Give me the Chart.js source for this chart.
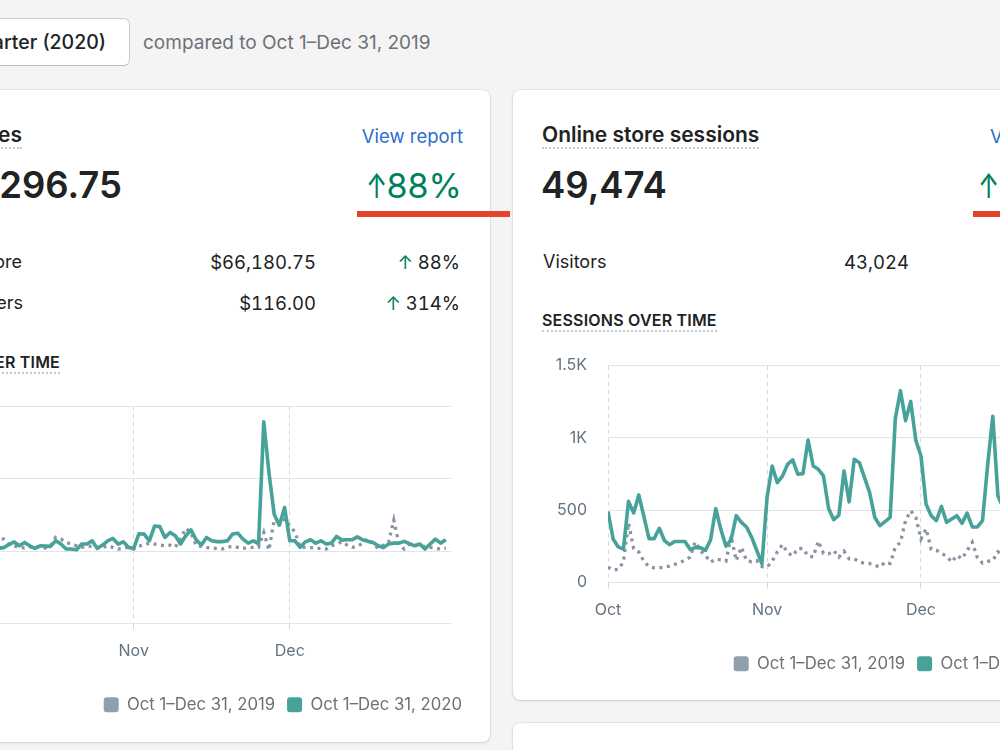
<!DOCTYPE html>
<html>
<head>
<meta charset="utf-8">
<script src="https://cdn.jsdelivr.net/npm/chart.js@4/dist/chart.umd.min.js"></script>
<style>
html,body{margin:0;padding:0;width:1000px;height:750px;overflow:hidden;background:#f4f4f5;font-family:Inter,"Noto Sans",sans-serif;color:#202223;}
.abs{position:absolute;white-space:nowrap;}
.card{position:absolute;background:#fff;border-radius:8px;box-shadow:0 0 0 1px rgba(63,63,68,0.06),0 1px 3px 0 rgba(63,63,68,0.16);}
.h{font-size:21px;font-weight:600;line-height:24px;}
.dot{border-bottom:2px dotted #c4cad0;}
.big{font-size:36.5px;font-weight:600;line-height:44px;}
.pct{font-size:34px;line-height:40px;color:#007f5f;}
.arr{display:inline-block;transform:scaleX(0.75);transform-origin:left center;width:21px;}
.row{font-size:18px;line-height:24px;}
.num{font-size:18.5px;font-feature-settings:"tnum" 1;}
.sub{font-size:16px;font-weight:600;line-height:20px;letter-spacing:0.2px;}
.link{font-size:18.5px;line-height:24px;color:#2c6ecb;}
.g{color:#007f5f;}
.red{position:absolute;background:#e4442b;height:6px;}
.chartbox{position:absolute;}
</style>
</head>
<body>
<div class="abs" style="left:-110px;top:18px;width:240px;height:48px;box-sizing:border-box;border:1px solid #c9cccf;border-bottom-color:#babfc3;border-radius:6px;background:#fff;text-align:right;padding-right:23px;font-size:19.5px;font-weight:500;line-height:47px;">Last quarter (2020)</div>
<div class="abs" style="left:143px;top:31px;font-size:19px;line-height:24px;color:#6d7175;">compared to Oct 1–Dec 31, 2019</div>

<div class="card" style="left:-116px;top:90px;width:606px;height:652px;"></div>
<div class="card" style="left:513px;top:90px;width:606px;height:610px;"></div>
<div class="card" style="left:513px;top:723px;width:606px;height:100px;"></div>

<!-- left card texts -->
<div class="abs h" style="right:978px;top:123px;"><span class="dot">Total sales</span></div>
<div class="abs link" style="right:537px;top:124px;">View report</div>
<div class="abs big" style="right:878px;top:163px;">$66,296.75</div>
<div class="abs pct" style="right:538px;top:166px;"><span class="arr">↑</span>88%</div>
<div class="abs row" style="right:978px;top:250px;">Online store</div>
<div class="abs row num" style="right:684px;top:250px;">$66,180.75</div>
<div class="abs row num" style="right:540px;top:250px;"><span class="g">↑</span> 88%</div>
<div class="abs row" style="right:977px;top:291px;">Draft Orders</div>
<div class="abs row num" style="right:684px;top:291px;">$116.00</div>
<div class="abs row num" style="right:540px;top:291px;"><span class="g">↑</span> 314%</div>
<div class="abs sub" style="right:940px;top:352px;"><span class="dot">SALES OVER TIME</span></div>

<!-- right card texts -->
<div class="abs h" style="left:542px;top:123px;"><span class="dot">Online store sessions</span></div>
<div class="abs link" style="left:990px;top:124px;">View report</div>
<div class="abs big" style="left:541px;top:163px;">49,474</div>
<div class="abs pct" style="left:978px;top:166px;"><span class="arr">↑</span></div>
<div class="abs row" style="left:543px;top:250px;">Visitors</div>
<div class="abs row num" style="right:91px;top:250px;">43,024</div>
<div class="abs sub" style="left:542px;top:310px;"><span class="dot">SESSIONS OVER TIME</span></div>

<div class="red" style="left:357px;top:211px;width:153px;"></div>
<div class="red" style="left:973px;top:211px;width:30px;"></div>

<div class="chartbox" style="left:-87px;top:376px;width:561px;height:347px;"><canvas id="salesChart"></canvas></div>
<div class="chartbox" style="left:542px;top:335px;width:562px;height:347px;"><canvas id="sessionsChart"></canvas></div>

<script>
const legendLabels = ['Oct 1–Dec 31, 2019', 'Oct 1–Dec 31, 2020'];
const monthTickDays = [0, 31, 61];
const monthTickLabels = ['Oct', 'Nov', 'Dec'];

const salesTickValues = [-5000, 0, 5000, 10000];
const salesTickLabels = ['-$5K', '$0', '$5K', '$10K'];
const sessionsTickValues = [0, 500, 1000, 1500];
const sessionsTickLabels = ['0', '500', '1K', '1.5K'];

const sales2019 = [900,850,950,800,870,880,830,480,345,280,210,280,345,280,210,350,950,830,600,480,370,255,370,310,255,255,370,255,140,200,255,140,345,430,550,480,415,370,415,275,830,1570,1290,370,325,255,200,185,140,275,325,255,185,255,255,255,1290,70,2160,1980,2210,1750,1310,255,255,240,185,185,140,370,480,640,415,255,325,550,880,480,185,415,600,2140,480,140,480,415,370,310,255,185,140,200];
const sales2020 = [280,350,200,300,250,185,240,450,640,365,600,365,185,365,345,325,710,485,140,140,90,485,485,710,185,415,710,875,485,640,255,185,1200,1175,710,1725,1700,945,1290,1055,485,1055,1470,780,415,945,710,655,655,710,1175,1240,830,550,710,515,8950,5430,2550,1795,3015,710,710,255,640,780,550,710,485,550,1015,760,780,780,985,780,670,600,365,240,485,550,550,670,515,365,485,140,485,830,550,780];
const sessions2019 = [105,85,90,140,410,234,210,145,108,100,100,106,112,124,135,155,174,280,220,186,140,160,155,147,320,150,243,150,142,150,108,105,145,211,262,206,183,234,234,181,176,285,200,197,220,174,215,163,163,140,132,130,118,105,140,130,243,277,427,495,450,300,370,229,222,200,181,140,186,163,220,277,170,133,145,150,211,190,170,150,160,140,130,150,170,160,140,120,130,150,140,120];
const sessions2020 = [490,300,245,230,560,480,605,455,302,302,374,289,261,282,282,282,228,240,240,221,295,511,365,250,295,461,415,383,312,220,128,587,805,690,735,816,848,748,752,984,805,782,736,511,433,465,771,557,851,828,725,621,449,392,420,449,1133,1325,1119,1252,982,874,541,461,427,525,415,438,461,408,479,383,383,427,812,1149,598,520,480,450,500,470,430,460,520,490,440,400,420,460,430,450];

Chart.defaults.font.family = 'Inter, "Noto Sans", sans-serif';

function makeChart(id, s2019, s2020, tickVals, tickLabels, yWidth, rWidth) {
  const pts = arr => arr.map((v, i) => ({x: i, y: v}));
  return new Chart(document.getElementById(id), {
    type: 'line',
    data: {
      datasets: [
        {label: legendLabels[0], data: pts(s2019), borderColor: '#8993a2', backgroundColor: '#919eab',
         borderWidth: 3.3, borderDash: [3, 4.5], pointRadius: 0, tension: 0, order: 1},
        {label: legendLabels[1], data: pts(s2020), borderColor: '#47a29a', backgroundColor: '#47a29a',
         borderWidth: 3.6, pointRadius: 0, tension: 0, order: 0, borderJoinStyle: 'round'}
      ]
    },
    options: {
      animation: false, responsive: true, maintainAspectRatio: false,
      layout: {padding: {top: 0}},
      plugins: {
        tooltip: {enabled: false},
        legend: {position: 'bottom', align: 'end',
          labels: {boxWidth: 15, boxHeight: 15, useBorderRadius: true, borderRadius: 3, padding: 12,
            color: '#6d7175', font: {size: 16.7},
            generateLabels: chart => Chart.defaults.plugins.legend.labels.generateLabels(chart).map(l =>
              Object.assign(l, {lineDash: [], lineWidth: 0, strokeStyle: l.fillStyle})),
            sort: (a, b) => a.datasetIndex - b.datasetIndex}}
      },
      scales: {
        x: {type: 'linear', min: 0, max: 92,
          afterBuildTicks: s => { s.ticks = monthTickDays.map(v => ({value: v})); },
          afterFit: s => { s.height = 61; },
          ticks: {autoSkip: false, maxRotation: 0, padding: 12, color: '#637381', font: {size: 16},
            callback: v => monthTickLabels[monthTickDays.indexOf(v)]},
          grid: {color: '#d3d8de', tickLength: 6},
          border: {display: false, dash: [4, 4]}},
        y: {min: tickVals[0], max: tickVals[tickVals.length - 1],
          afterBuildTicks: s => { s.ticks = tickVals.map(v => ({value: v})); },
          afterFit: s => { s.width = yWidth; },
          ticks: {padding: 21, color: '#637381', font: {size: 16},
            callback: v => tickLabels[tickVals.indexOf(v)]},
          grid: {color: '#e1e4e8', drawTicks: false},
          border: {display: false}},
        yR: {position: 'right', display: true,
          afterFit: s => { s.width = rWidth; },
          ticks: {display: false}, grid: {display: false}, border: {display: false}}
      }
    }
  });
}

makeChart('salesChart', sales2019, sales2020, salesTickValues, salesTickLabels, 59.5, 23);
makeChart('sessionsChart', sessions2019, sessions2020, sessionsTickValues, sessionsTickLabels, 66, 24);
</script>
</body>
</html>
